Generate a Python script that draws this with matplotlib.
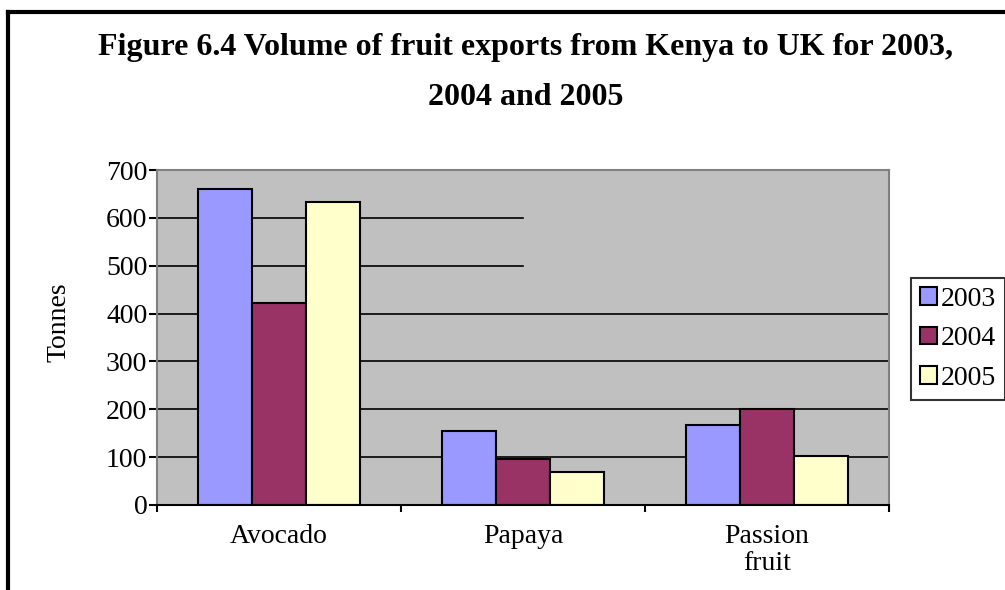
import matplotlib.pyplot as plt
import numpy as np
from matplotlib.lines import Line2D
from matplotlib.patches import Patch

plt.rcParams['font.family'] = 'Liberation Serif'

# data
fruits = ['Avocado', 'Papaya', 'Passion\nfruit']
years = ['2003', '2004', '2005']
vol_2003 = [660, 155, 167]
vol_2004 = [422, 97, 200]
vol_2005 = [633, 68, 103]
colours = ['#9999FF', '#993366', '#FFFFCC']

fig = plt.figure(figsize=(10.05, 5.9), dpi=100)
ax = fig.add_axes([157/1005, 1-505/590, 732/1005, 335/590])
ax.set_facecolor('#C0C0C0')

# gridlines (the upper two only run half way, as in the original)
yticks = np.arange(0, 800, 100)
for v in yticks[1:-1]:
    ax.axhline(v, xmin=0, xmax=1.0 if v <= 400 else 0.5, color='black', lw=1.2, zorder=1)

x = np.arange(len(fruits))
w = 1/4.5
for j, (vals, c) in enumerate(zip([vol_2003, vol_2004, vol_2005], colours)):
    ax.bar(x + (j-1)*w, vals, width=w, color=c, edgecolor='black', lw=1.5, zorder=2)

ax.set_xlim(-0.5, 2.5)
ax.set_ylim(0, 700)
ax.set_yticks(yticks)
ax.set_yticklabels([str(v) for v in yticks], fontsize=20)
ax.set_xticks(x)
ax.set_xticklabels(fruits, fontsize=20, linespacing=1.1)
ax.set_xticks([-0.5, 0.5, 1.5, 2.5], minor=True)
ax.tick_params(axis='x', which='major', length=0, pad=14)
ax.tick_params(axis='x', which='minor', direction='out', length=5, width=1.5)
ax.tick_params(axis='y', direction='out', length=6, width=1.5, pad=1)
ax.set_ylabel('Tonnes', fontsize=20)
ax.yaxis.set_label_coords(-0.117, 0.545)

for s in ['top', 'left', 'right']:
    ax.spines[s].set_color('#808080')
    ax.spines[s].set_linewidth(1.5)
ax.spines['bottom'].set_color('black')
ax.spines['bottom'].set_linewidth(1.5)

handles = [Patch(facecolor=c, edgecolor='black', lw=1.5) for c in colours]
leg = fig.legend(handles, years, loc='upper left', bbox_to_anchor=(911/1005, 1-278/590),
                 borderaxespad=0, fontsize=20, frameon=True, fancybox=False,
                 handlelength=0.6, handleheight=0.6, handletextpad=0.15,
                 labelspacing=0.52, borderpad=0.32)
leg.get_frame().set_edgecolor('black')
leg.get_frame().set_linewidth(1.5)

fig.text(0.523, 1-33/590, 'Figure 6.4 Volume of fruit exports from Kenya to UK for 2003,\n2004 and 2005',
         ha='center', va='top', fontsize=23, weight='bold', linespacing=1.95)

# outer frame (top and left edges visible)
fig.add_artist(Line2D([8/1005, 8/1005], [0, 1-12/590], color='black', lw=3, transform=fig.transFigure))
fig.add_artist(Line2D([8/1005, 1], [1-12/590, 1-12/590], color='black', lw=3, transform=fig.transFigure))

fig.savefig('out.png', dpi=100)
